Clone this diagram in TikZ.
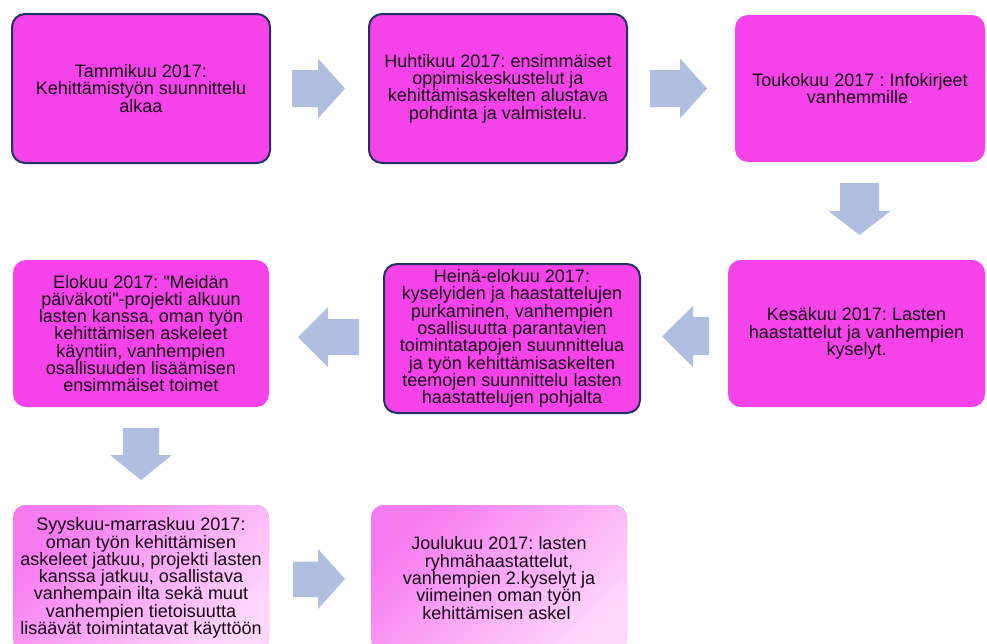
\documentclass[tikz,border=0pt]{standalone}
\usepackage{fontspec}
\setmainfont{Liberation Sans}[Ligatures=TeXOff]
\frenchspacing
\definecolor{boxmag}{HTML}{F643E9}
\definecolor{boxline}{HTML}{1F3461}
\definecolor{arrowc}{HTML}{B0BEDF}
\definecolor{gradA}{HTML}{F67AF0}
\definecolor{gradB}{HTML}{FFD6FC}
\definecolor{txt}{HTML}{140814}
\begin{document}
\begin{tikzpicture}[x=1pt,y=-1pt,
  box/.style={rounded corners=13pt, fill=boxmag, inner sep=0pt, align=center,
    font=\fontsize{18}{17.3}\selectfont\frenchspacing, text=txt},
  edged/.style={draw=boxline, line width=2pt},
  fade/.style={top color=gradA, bottom color=gradB, shading angle=45},
  barrow/.style={fill=arrowc, draw=none}]
\useasboundingbox (0,0) rectangle (987,643);
\fill[white] (0,0) rectangle (987,643);
\begin{scope}
\clip (0,0) rectangle (987,643);
% row 1
\node[box, edged, minimum width=258pt, minimum height=149pt] (b1) at (141,88.5)
  {Tammikuu 2017:\\Kehittämistyön suunnittelu\\alkaa};
\node[box, edged, minimum width=258pt, minimum height=149pt] (b2) at (498,88.5)
  {Huhtikuu 2017: ensimmäiset\\oppimiskeskustelut ja\\kehittämisaskelten alustava\\pohdinta ja valmistelu.};
\node[box, minimum width=250pt, minimum height=147pt] (b3) at (860,88.5)
  {Toukokuu 2017 : Infokirjeet\\vanhemmille\textcolor{white!75!boxmag}{.}};
% row 2
\node[box, minimum width=257pt, minimum height=147pt] (b4) at (856.5,333.5)
  {Kesäkuu 2017: Lasten\\haastattelut ja vanhempien\\kyselyt.};
\node[box, edged, minimum width=256pt, minimum height=149pt] (b5) at (512,338.5)
  {Heinä-elokuu 2017:\\kyselyiden ja haastattelujen\\purkaminen, vanhempien\\osallisuutta parantavien\\toimintatapojen suunnittelua\\ja työn kehittämisaskelten\\teemojen suunnittelu lasten\\haastattelujen pohjalta};
\node[box, minimum width=256pt, minimum height=147pt] (b6) at (141,333.5)
  {Elokuu 2017: "Meidän\\päiväkoti"-projekti alkuun\\lasten kanssa, oman työn\\kehittämisen askeleet\\käyntiin, vanhempien\\osallisuuden lisäämisen\\ensimmäiset toimet};
% row 3
\node[box, fade, minimum width=256pt, minimum height=146pt] (b7) at (141,578)
  {Syyskuu-marraskuu 2017:\\oman työn kehittämisen\\askeleet jatkuu, projekti lasten\\kanssa jatkuu, osallistava\\vanhempain ilta sekä muut\\vanhempien tietoisuutta\\lisäävät toimintatavat käyttöön};
\node[box, fade, minimum width=256pt, minimum height=146pt] (b8) at (499,578)
  {Joulukuu 2017: lasten\\ryhmähaastattelut,\\vanhempien 2.kyselyt ja\\viimeinen oman työn\\kehittämisen askel\textcolor{white!80!gradB}{.}};
\end{scope}
% block arrows
\fill[barrow] (292,70) -- (318,70) -- (318,58.5) -- (345,88.5) -- (318,118.5) -- (318,107) -- (292,107) -- cycle;
\fill[barrow] (650,70) -- (680,70) -- (680,58.5) -- (707,88.5) -- (680,118.5) -- (680,107) -- (650,107) -- cycle;
\fill[barrow] (840,183) -- (879,183) -- (879,211) -- (890.5,211) -- (859.5,235) -- (828.5,211) -- (840,211) -- cycle;
\fill[barrow] (709,317) -- (693,317) -- (693,306) -- (662,336.5) -- (693,367) -- (693,355) -- (709,355) -- cycle;
\fill[barrow] (359,319) -- (328,319) -- (328,307) -- (298,337) -- (328,367) -- (328,355) -- (359,355) -- cycle;
\fill[barrow] (123,428) -- (159,428) -- (159,455) -- (172,455) -- (141,480) -- (110,455) -- (123,455) -- cycle;
\fill[barrow] (293,561.5) -- (318,561.5) -- (318,549) -- (345,579) -- (318,609) -- (318,597) -- (293,597) -- cycle;
\end{tikzpicture}
\end{document}
